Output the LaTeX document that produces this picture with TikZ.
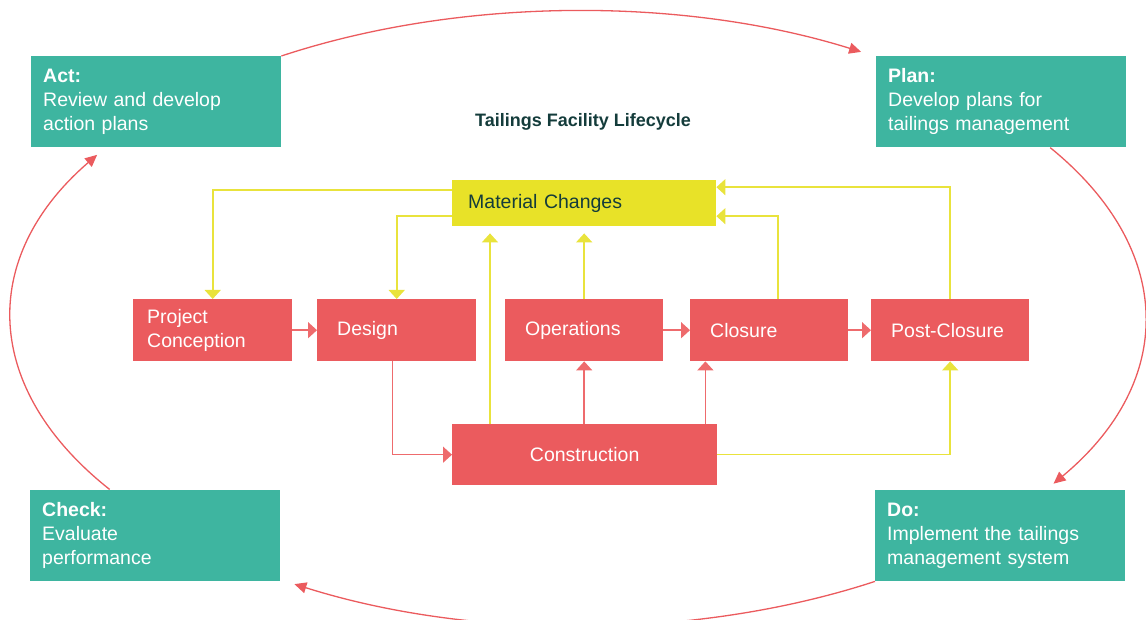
\documentclass[tikz,border=0pt]{standalone}
\usepackage{fontspec}
\setmainfont{Liberation Sans}
\usetikzlibrary{arrows.meta,calc}
\definecolor{tealbox}{HTML}{3EB5A0}
\definecolor{redbox}{HTML}{EB5B5E}
\definecolor{redline}{HTML}{EE6B6D}
\definecolor{ybox}{HTML}{E8E228}
\definecolor{yline}{HTML}{E9E33C}
\definecolor{darktxt}{HTML}{143C3B}
\begin{document}
\begin{tikzpicture}[x=1pt,y=1pt,
  font=\fontsize{19.5}{24}\selectfont,
  pdca/.style={fill=tealbox, text=white, anchor=north west, minimum width=250pt,
    minimum height=91pt, text width=226pt, inner xsep=12pt, inner ysep=0pt, align=left},
  stage/.style={fill=redbox, text=white, anchor=north west, minimum height=62pt,
    inner ysep=0pt, inner xsep=20pt, align=left},
  redarrow/.style={draw=redline, line width=1.5pt, -{Triangle[length=9pt,width=16pt]}, color=redline},
  yarrow/.style={draw=yline, line width=1.6pt, -{Triangle[length=9pt,width=16pt]}, color=yline},
  cyc/.style={draw=redbox, line width=1.3pt, -{Triangle[length=12pt,width=11pt]}, color=redbox}
]
\useasboundingbox (0,0) rectangle (1146,620);

% PDCA boxes
\node[pdca] (act) at (31,564) {\textbf{Act:}\\Review and develop\\action plans};
\node[pdca] (plan) at (876,564) {\textbf{Plan:}\\Develop plans for\\tailings management};
\node[pdca] (check) at (30,130) {\textbf{Check:}\\Evaluate\\performance};
\node[pdca] (do) at (875,130) {\textbf{Do:}\\Implement the tailings\\management system};

% title
\node[anchor=base, text=darktxt, font=\fontsize{18}{21}\selectfont\bfseries] (title) at (583,493) {Tailings Facility Lifecycle};

% stages
\node[stage, minimum width=159pt, text width=131pt, inner xsep=14pt] (pc) at (133,321) {Project\\Conception};
\node[stage, minimum width=159pt, text width=119pt] (design) at (317,321) {Design};
\node[stage, minimum width=158pt, text width=118pt] (ops) at (505,321) {Operations};
\node[stage, minimum width=158pt, text width=118pt] (closure) at (690,321) {Closure};
\node[stage, minimum width=158pt, text width=118pt] (post) at (871,321) {Post-Closure};
\node[fill=redbox, text=white, anchor=north west, minimum width=265pt, minimum height=61pt,
  inner sep=0pt] (construction) at (452,196) {Construction};
\node[fill=ybox, text=darktxt, anchor=north west, minimum width=264pt, minimum height=46pt,
  text width=232pt, inner xsep=16pt, inner ysep=0pt, align=left] (material) at (452,440) {Material Changes};

% red connectors
\draw[redarrow] (pc) -- (design);
\draw[redarrow] (ops) -- (closure);
\draw[redarrow] (closure) -- (post);
\draw[redarrow] ([xshift=-4pt]design.south) |- (construction.west);
\draw[redarrow] (construction.north -| ops.south) -- (ops.south);
\draw[redarrow] ([xshift=-12pt]construction.north east) -- ([xshift=-12pt]construction.north east |- closure.south);

% yellow connectors
\draw[yarrow] (construction.east) -| (post.south);
\draw[yarrow, shorten >=7pt] ([xshift=38pt]construction.north west) -- ([xshift=38pt]construction.north west |- material.south);
\draw[yarrow, shorten >=7pt] (ops.north) -- (ops.north |- material.south);
\draw[yarrow] ([yshift=13pt]material.west) -| (pc.north);
\draw[yarrow] ([yshift=-13pt]material.west) -| (design.north);
\draw[yarrow] ([xshift=9pt]closure.north) |- ([yshift=-13pt]material.east);
\draw[yarrow] (post.north) |- ([yshift=16pt]material.east);

% PDCA cycle (elliptical arcs)
\coordinate (c) at (578,303);
\coordinate (e2) at ($(c)+(33.6:567pt and 306pt)$);
\coordinate (e4) at ($(c)+(214.3:567pt and 306pt)$);
\draw[cyc] (act.north east) arc[start angle=121.5, end angle=60, x radius=567pt, y radius=306pt];
\draw[cyc] (e2) arc[start angle=33.6, end angle=-33, x radius=567pt, y radius=306pt];
\draw[cyc] (do.south west) arc[start angle=-58.7, end angle=-120.3, x radius=567pt, y radius=306pt];
\draw[cyc] (e4) arc[start angle=214.3, end angle=148, x radius=567pt, y radius=306pt];
\end{tikzpicture}
\end{document}
